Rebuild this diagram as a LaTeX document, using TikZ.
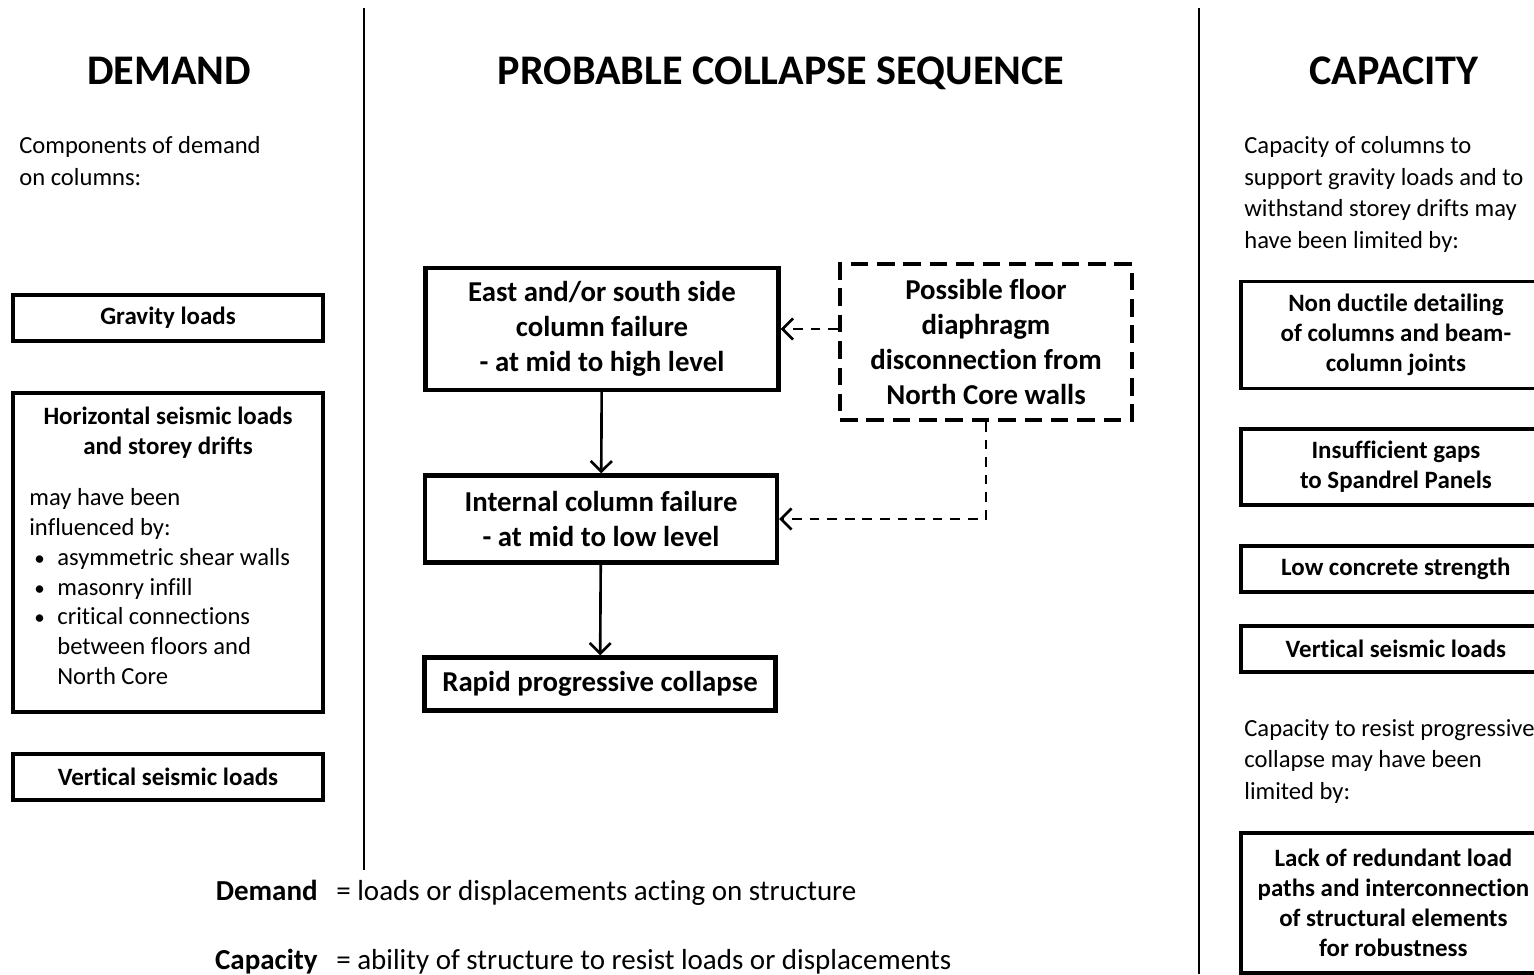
\documentclass[tikz,border=0pt]{standalone}
\usepackage{fontspec}
\setmainfont{Carlito}[Ligatures=NoCommon]
\usetikzlibrary{arrows.meta}

\tikzset{
  box/.style={draw, line width=2.2pt, align=center, inner sep=2pt,
    font=\bfseries\fontsize{14.2}{17}\selectfont},
  seqbox/.style={draw, line width=2.4pt, align=center,
    font=\bfseries\fontsize{16.4}{19.8}\selectfont},
  dashbox/.style={seqbox, dash pattern=on 10pt off 5pt},
  heading/.style={anchor=base, inner sep=0pt, font=\bfseries\fontsize{24}{28}\selectfont},
  note/.style={align=left, inner sep=0pt, anchor=north west,
    font=\fontsize{14}{18.3}\selectfont},
  flow/.style={line width=1.5pt, -{Straight Barb[length=6pt,width=12pt]}},
  dflow/.style={flow, dash pattern=on 5.5pt off 4.5pt},
}
\newcommand{\bl}{\hspace*{0.1cm}\makebox[0.46cm][l]{\fontsize{12}{12}\selectfont\textbullet}}

\begin{document}
\begin{tikzpicture}[x=0.02cm, y=-0.02cm]
\clip (0,0) rectangle (1534,974);

% dividers
\draw[line width=0.8pt] (364,8) -- (364,870);
\draw[line width=0.8pt] (1199,8) -- (1199,974);

% headings
\node[heading] (hdem) at (169,84) {DEMAND};
\node[heading] (hseq) at (781,84) {PROBABLE COLLAPSE SEQUENCE};
\node[heading] (hcap) at (1394,84) {CAPACITY};

%%%%% DEMAND %%%%%
\node[note] (dnote) at (19,136) {Components of demand\\on columns:};
\node[box, minimum width=6.2cm, minimum height=0.92cm] (grav) at (168,318) {Gravity loads};
\node[box, minimum width=6.2cm, minimum height=6.38cm] (horiz) at (168,552.5) {};
\node[align=center, inner sep=0pt, font=\bfseries\fontsize{14.2}{17}\selectfont]
  (horizt) at (168,433) {Horizontal seismic loads\\and storey drifts};
\node[note, font=\fontsize{14}{17}\selectfont] (horizl) at (29,488)
  {may have been\\influenced by:\\\bl asymmetric shear walls\\\bl masonry infill\\
   \bl critical connections\\\hspace*{0.56cm}between floors and\\\hspace*{0.56cm}North Core};
\node[box, minimum width=6.2cm, minimum height=0.92cm] (dvert) at (168,777) {Vertical seismic loads};

%%%%% SEQUENCE %%%%%
\node[seqbox, minimum width=7.06cm, minimum height=2.44cm] (east) at (602,329)
  {East and/or south side\\column failure\\- at mid to high level};
\node[seqbox, minimum width=7.04cm, minimum height=1.74cm] (int) at (601,519)
  {Internal column failure\\- at mid to low level};
\node[seqbox, minimum width=7.02cm, minimum height=1.06cm] (rapid) at (600,684)
  {Rapid progressive collapse};
\node[dashbox, minimum width=5.84cm, minimum height=3.12cm] (poss) at (986,342)
  {Possible floor\\diaphragm\\disconnection from\\North Core walls};

\draw[flow] (east) -- (int);
\draw[flow] (int) -- (rapid);
\draw[dflow] (poss.west |- east) -- (east);
\draw[dflow] (poss.south) |- (int);

%%%%% CAPACITY %%%%%
\node[note, font=\fontsize{14}{18}\selectfont] (cnote) at (1244,136)
  {Capacity of columns to\\support gravity loads and to\\withstand storey drifts may\\have been limited by:};
\node[box, anchor=west, minimum width=6.2cm, minimum height=2.14cm] (nduct) at (1239,335)
  {Non ductile detailing\\of columns and beam-\\column joints};
\node[box, anchor=west, minimum width=6.2cm, minimum height=1.52cm] (gaps) at (1239,467)
  {Insufficient gaps\\to Spandrel Panels};
\node[box, anchor=west, minimum width=6.2cm, minimum height=0.92cm] (conc) at (1239,569)
  {Low concrete strength};
\node[box, anchor=west, minimum width=6.2cm, minimum height=0.92cm] (cvert) at (1239,649)
  {Vertical seismic loads};
\node[note, font=\fontsize{14}{18}\selectfont] (cnote2) at (1244,719)
  {Capacity to resist progressive\\collapse may have been\\limited by:};
\node[box, anchor=west, minimum width=6.1cm, minimum height=2.8cm] (lack) at (1239,903)
  {Lack of redundant load\\paths and interconnection\\of structural elements\\for robustness};

%%%%% DEFINITIONS %%%%%
\node[anchor=base east, inner sep=0pt, font=\bfseries\fontsize{16.5}{20}\selectfont] (ddef) at (318,900) {Demand};
\node[anchor=base west, inner sep=0pt, font=\fontsize{16.5}{20}\selectfont] (ddeft) at (336,900)
  {= loads or displacements acting on structure};
\node[anchor=base east, inner sep=0pt, font=\bfseries\fontsize{16.5}{20}\selectfont] (cdef) at (318,969) {Capacity};
\node[anchor=base west, inner sep=0pt, font=\fontsize{16.5}{20}\selectfont] (cdeft) at (336,969)
  {= ability of structure to resist loads or displacements};
\end{tikzpicture}
\end{document}
